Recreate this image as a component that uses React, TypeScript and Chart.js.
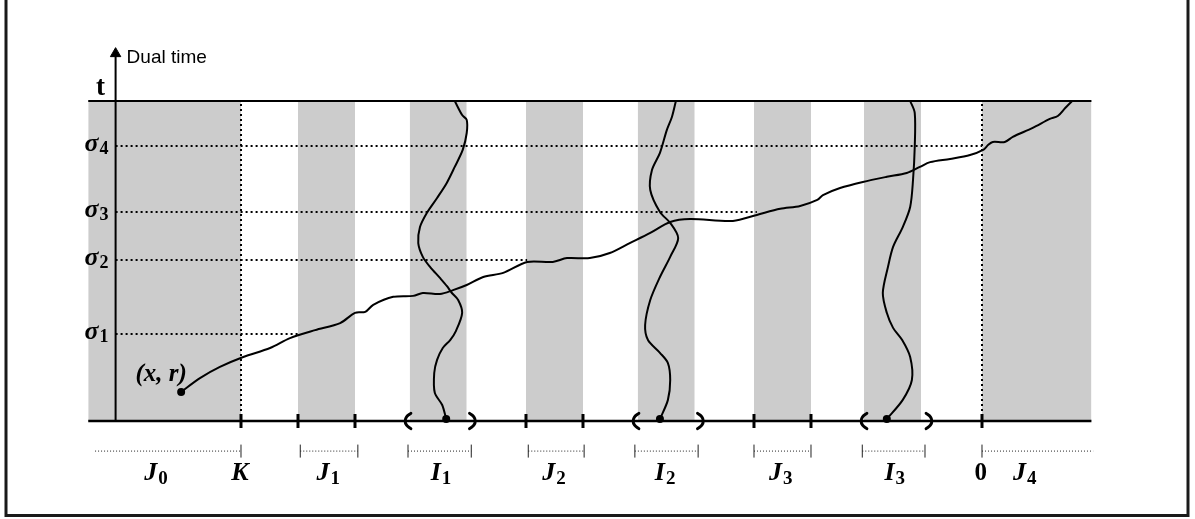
import React, { useEffect, useRef } from "react";
import { Chart, registerables } from "chart.js";
Chart.register(...registerables);

// ---- view window (space units x, time units t) ----
const VIEW_X_MIN = -17.228;
const VIEW_X_MAX = 3.737;
const VIEW_T_MIN = -3.0625;
const VIEW_T_MAX = 13.156;

// ---- diagram extents ----
const X_MIN = -15.68;
const X_MAX = 1.92;
const T_TOP = 10;
const Y_AXIS_X = -15.2;
const T_AXIS_TOP = 11.45;

// ---- stripes ----
const jStripeStart = [-15.68, -12, -8, -4, 0];
const jStripeEnd = [-13, -11, -7, -3, 1.92];
const iStripeStart = [-10.04, -6.04, -2.07];
const iStripeEnd = [-9.04, -5.04, -1.07];

// ---- sigma levels ----
const sigmaSubs = ["1", "2", "3", "4"];
const sigmaValues = [2.72, 5.03, 6.53, 8.59];
const sigmaEnds = [-11.96, -7.98, -3.95, 0];
const dottedVerticals = [-13, 0];

// ---- axis marks ----
const axisTicks = [-13, -12, -11, -8, -7, -4, -3, 0];
const openBrackets = [-10.12, -6.12, -2.12];
const closeBrackets = [-8.89, -4.89, -0.88];
const bracketDx = [0.1, 0.025, 0, 0.025, 0.1];
const bracketDt = [0.24, 0.13, 0, -0.13, -0.24];

// ---- intervals below the axis ----
const BELOW_T = -0.94;
const belowStarts = [-15.56, -11.96, -10.07, -7.96, -6.09, -4.0, -2.1, 0];
const belowEnds = [-13, -10.95, -8.96, -6.98, -4.98, -3.0, -1.0, 1.95];
const belowTicks = [-13, -11.96, -10.95, -10.07, -8.96, -7.96, -6.98, -6.09, -4.98, -4, -3, -2.1, -1.0, 0];

// ---- labels under the axis ----
const LABEL_T = -1.84;
const labelMain = ["J", "K", "J", "I", "J", "I", "J", "I", "0", "J"];
const labelSub = ["0", "", "1", "1", "2", "2", "3", "3", "", "4"];
const labelX = [-14.49, -13.02, -11.47, -9.49, -7.51, -5.56, -3.53, -1.53, -0.02, 0.75];

// ---- paths ----
const pathXRx = [-14.05, -13.72, -13.37, -12.96, -12.49, -12.14, -11.7, -11.26, -11.0, -10.82, -10.68, -10.33, -9.98, -9.81, -9.51, -9.28, -9.04, -8.75, -8.4, -7.98, -7.53, -7.28, -6.88, -6.53, -6.18, -5.82, -5.47, -5.12, -4.37, -3.95, -3.54, -3.19, -2.89, -2.79, -2.49, -2.09, -1.67, -1.32, -1.09, -0.91, -0.56, -0.21, 0.02, 0.11, 0.19, 0.4, 0.54, 0.89, 1.19, 1.33, 1.46, 1.58];
const pathXRt = [0.91, 1.34, 1.69, 2.0, 2.28, 2.59, 2.84, 3.06, 3.38, 3.41, 3.63, 3.88, 3.91, 4.0, 3.97, 4.09, 4.25, 4.5, 4.63, 4.97, 4.97, 5.09, 5.09, 5.25, 5.56, 5.88, 6.22, 6.31, 6.25, 6.44, 6.63, 6.72, 6.91, 7.06, 7.28, 7.47, 7.63, 7.75, 7.94, 8.09, 8.19, 8.31, 8.47, 8.63, 8.72, 8.72, 8.88, 9.16, 9.44, 9.53, 9.78, 10.0];
const pathI1x = [-9.4, -9.47, -9.6, -9.61, -9.56, -9.46, -9.33, -9.23, -9.12, -9.19, -9.3, -9.39, -9.51, -9.68, -9.81, -9.89, -9.86, -9.74, -9.56, -9.39, -9.25, -9.11, -9.04, -9.04, -9.12, -9.25];
const pathI1t = [0.06, 0.5, 0.88, 1.5, 1.91, 2.28, 2.53, 2.81, 3.38, 3.78, 4.0, 4.22, 4.47, 4.81, 5.13, 5.56, 6.06, 6.5, 6.97, 7.44, 7.94, 8.47, 9.0, 9.41, 9.56, 10.0];
const pathI2x = [-5.65, -5.51, -5.47, -5.51, -5.65, -5.86, -5.91, -5.82, -5.65, -5.47, -5.33, -5.47, -5.65, -5.82, -5.79, -5.65, -5.53, -5.44, -5.37];
const pathI2t = [0.06, 0.66, 1.28, 1.81, 2.13, 2.53, 3.0, 3.78, 4.5, 5.13, 5.72, 6.19, 6.53, 7.22, 7.84, 8.38, 9.09, 9.5, 10.0];
const pathI3x = [-1.67, -1.39, -1.23, -1.26, -1.4, -1.56, -1.67, -1.74, -1.65, -1.56, -1.39, -1.26, -1.21, -1.18, -1.18, -1.26];
const pathI3t = [0.06, 0.66, 1.28, 2.0, 2.53, 2.91, 3.38, 4.0, 4.81, 5.44, 6.06, 6.69, 7.53, 8.56, 9.63, 10.0];

const dotX = [-14.05, -9.4, -5.65, -1.67];
const dotT = [0.91, 0.06, 0.06, 0.06];

const GRAY = "#cccccc";
const INK = "#000000";
const MATH = '"Liberation Serif", "DejaVu Serif", serif';

const pts = (xs: number[], ts: number[]) => xs.map((x, i) => ({ x, y: ts[i] }));

function mathText(ctx: CanvasRenderingContext2D, main: string, sub: string, x: number, y: number, align: string, mainFont: string, subFont: string, subDrop: number) {
  ctx.font = mainFont;
  const w1 = ctx.measureText(main).width;
  ctx.font = subFont;
  const w2 = sub ? ctx.measureText(sub).width : 0;
  const total = w1 + (sub ? w2 + 1 : 0);
  const left = align === "center" ? x - total / 2 : align === "right" ? x - total : x;
  ctx.textAlign = "left";
  ctx.textBaseline = "alphabetic";
  ctx.font = mainFont;
  ctx.fillText(main, left, y);
  if (sub) {
    ctx.font = subFont;
    ctx.fillText(sub, left + w1 + 1, y + subDrop);
  }
}

const textPlugin = {
  id: "diagramText",
  afterDraw(chart: any) {
    const ctx: CanvasRenderingContext2D = chart.ctx;
    const xs = chart.scales.x;
    const ys = chart.scales.y;
    ctx.save();
    ctx.fillStyle = INK;
    const axisPx = xs.getPixelForValue(Y_AXIS_X);
    sigmaValues.forEach((v, i) => {
      const py = ys.getPixelForValue(v);
      mathText(ctx, "σ", sigmaSubs[i], axisPx - 7, py + 5, "right", `italic bold 26px ${MATH}`, `bold 18px ${MATH}`, 3);
    });
    ctx.font = `bold 27px ${MATH}`;
    ctx.textAlign = "center";
    ctx.textBaseline = "alphabetic";
    ctx.fillText("t", axisPx - 15, ys.getPixelForValue(T_TOP) - 6);
    ctx.font = '19px "Liberation Sans", Arial, sans-serif';
    ctx.textAlign = "left";
    ctx.fillText("Dual time", axisPx + 11, ys.getPixelForValue(T_AXIS_TOP) + 8);
    ctx.font = `italic bold 25px ${MATH}`;
    ctx.textAlign = "center";
    ctx.fillText("(x, r)", xs.getPixelForValue(dotX[0]) - 20, ys.getPixelForValue(dotT[0]) - 11);
    const by = ys.getPixelForValue(LABEL_T);
    labelMain.forEach((m, i) => {
      const px = xs.getPixelForValue(labelX[i]);
      const isDigit = m === "0";
      mathText(ctx, m, labelSub[i], px, by, "center", isDigit ? `bold 25px ${MATH}` : `italic bold 26px ${MATH}`, `bold 19px ${MATH}`, 4);
    });
    ctx.strokeStyle = "#1a1a1a";
    ctx.lineWidth = 3;
    ctx.strokeRect(6, -3, 1182, 518.5);
    ctx.restore();
  },
};

export default function App() {
  const ref = useRef<HTMLCanvasElement | null>(null);
  useEffect(() => {
    if (!ref.current) return;
    const datasets: any[] = [];
    const lineDs = (data: any[], extra: any) => ({
      data,
      borderColor: INK,
      borderWidth: 2,
      pointRadius: 0,
      fill: false,
      tension: 0,
      clip: false,
      ...extra,
    });
    const stripeS = [...jStripeStart, ...iStripeStart];
    const stripeE = [...jStripeEnd, ...iStripeEnd];
    stripeS.forEach((a, i) => {
      datasets.push({
        data: [{ x: a, y: T_TOP }, { x: stripeE[i], y: T_TOP }],
        fill: "origin",
        backgroundColor: GRAY,
        borderColor: "rgba(0,0,0,0)",
        borderWidth: 0,
        pointRadius: 0,
        order: 20,
      });
    });
    sigmaValues.forEach((v, i) => {
      datasets.push(lineDs([{ x: Y_AXIS_X, y: v }, { x: sigmaEnds[i], y: v }], { borderDash: [2, 3], order: 15 }));
    });
    dottedVerticals.forEach((xv) => {
      datasets.push(lineDs([{ x: xv, y: 0 }, { x: xv, y: T_TOP }], { borderDash: [2, 3], order: 15 }));
    });
    datasets.push(lineDs([{ x: X_MIN, y: T_TOP }, { x: X_MAX, y: T_TOP }], { borderWidth: 2.2, order: 10 }));
    datasets.push(lineDs([{ x: X_MIN, y: 0 }, { x: X_MAX, y: 0 }], { borderWidth: 2.6, order: 10 }));
    datasets.push(lineDs([{ x: Y_AXIS_X, y: 0 }, { x: Y_AXIS_X, y: T_AXIS_TOP }], { borderWidth: 2, order: 10 }));
    datasets.push({
      data: [{ x: Y_AXIS_X, y: T_AXIS_TOP + 0.03 }],
      showLine: false,
      pointStyle: "triangle",
      pointRadius: 6,
      backgroundColor: INK,
      borderColor: INK,
      borderWidth: 1,
      order: 5,
    });
    datasets.push({
      data: axisTicks.map((x) => ({ x, y: 0 })),
      showLine: false,
      pointStyle: "line",
      rotation: 90,
      pointRadius: 7,
      borderColor: INK,
      borderWidth: 3,
      order: 5,
    });
    openBrackets.forEach((b) => {
      datasets.push(lineDs(bracketDx.map((d, i) => ({ x: b + d, y: bracketDt[i] })), { borderWidth: 3, tension: 0.4, order: 5, borderCapStyle: "round" }));
    });
    closeBrackets.forEach((b) => {
      datasets.push(lineDs(bracketDx.map((d, i) => ({ x: b - d, y: bracketDt[i] })), { borderWidth: 3, tension: 0.4, order: 5, borderCapStyle: "round" }));
    });
    belowStarts.forEach((a, i) => {
      datasets.push(lineDs([{ x: a, y: BELOW_T }, { x: belowEnds[i], y: BELOW_T }], { borderWidth: 1, borderDash: [1, 2], borderColor: "#222", order: 5 }));
    });
    datasets.push({
      data: belowTicks.map((x) => ({ x, y: BELOW_T })),
      showLine: false,
      pointStyle: "line",
      rotation: 90,
      pointRadius: 6.5,
      borderColor: "#222",
      borderWidth: 1,
      order: 5,
    });
    [
      [pathXRx, pathXRt],
      [pathI1x, pathI1t],
      [pathI2x, pathI2t],
      [pathI3x, pathI3t],
    ].forEach(([px, pt]) => {
      datasets.push(lineDs(pts(px, pt), { borderWidth: 2, tension: 0.3, order: 3, borderCapStyle: "round", borderJoinStyle: "round" }));
    });
    datasets.push({
      data: pts(dotX, dotT),
      showLine: false,
      pointRadius: 4,
      backgroundColor: INK,
      borderColor: INK,
      borderWidth: 0,
      order: 1,
    });

    const chart = new Chart(ref.current, {
      type: "line",
      data: { datasets },
      options: {
        animation: false,
        responsive: true,
        maintainAspectRatio: false,
        events: [],
        layout: { padding: 0, autoPadding: false },
        scales: {
          x: { type: "linear", min: VIEW_X_MIN, max: VIEW_X_MAX, display: false },
          y: { type: "linear", min: VIEW_T_MIN, max: VIEW_T_MAX, display: false },
        },
        plugins: { legend: { display: false }, tooltip: { enabled: false } },
      } as any,
      plugins: [textPlugin],
    });
    return () => chart.destroy();
  }, []);
  return (
    <div style={{ position: "absolute", left: 0, top: 0, width: 1195, height: 519, background: "#fff" }}>
      <canvas ref={ref} />
    </div>
  );
}
